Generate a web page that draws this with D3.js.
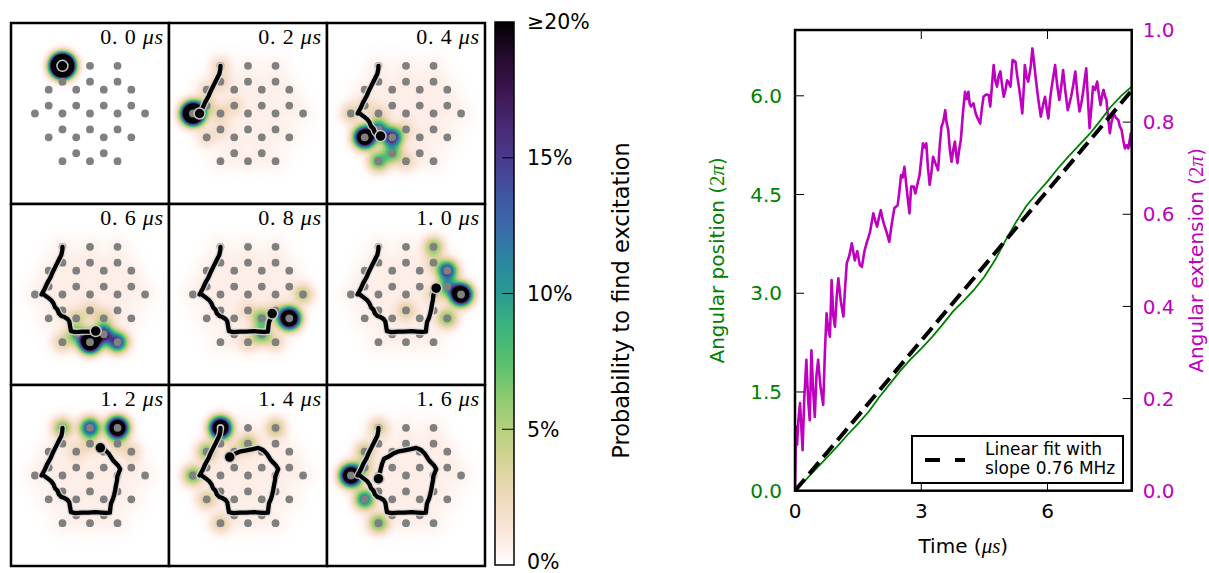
<!DOCTYPE html>
<html><head><meta charset="utf-8">
<script src="https://cdn.jsdelivr.net/npm/d3@7"></script>
<style>body{margin:0;background:#fff;}svg{display:block;}</style>
</head><body>
<svg id="chart" width="1209" height="573"></svg>
<script>
// ================= DATA =================
// honeycomb lattice geometry (lattice units)
const colX = [-3.464,-2.598,-1.732,-0.866,0,0.866,1.732,2.598,3.464];
const rowY = [-3,-2,-1.5,-0.5,0,1,1.5,2.5,3];
const siteIdx = [[2,0],[4,0],[6,0],[2,1],[4,1],[6,1],[1,2],[3,2],[5,2],[7,2],[1,3],[3,3],[5,3],[7,3],
  [0,4],[2,4],[4,4],[6,4],[8,4],[2,5],[4,5],[6,5],[1,6],[3,6],[5,6],[7,6],[3,7],[5,7],[2,8],[4,8],[6,8]];

const panelTimes = ["0. 0","0. 2","0. 4","0. 6","0. 8","1. 0","1. 2","1. 4","1. 6"];
const panelEndT = [0,0.2,0.4,0.6,0.8,1.0,1.2,1.4,1.6];
// excitation probability per site [col,row,p]
const panelProbs = [
  [[2,0,1.0]],
  [[0,4,0.62],[1,3,0.03],[2,4,0.02],[1,2,0.015],[2,0,0.02],[2,1,0.02],[3,3,0.015],[1,6,0.015],[2,5,0.012]],
  [[1,6,0.36],[3,6,0.17],[2,5,0.12],[2,8,0.085],[3,7,0.07],[0,4,0.03],[2,4,0.02],[1,3,0.015],[4,5,0.015],[4,8,0.02]],
  [[4,8,0.4],[5,7,0.16],[6,8,0.16],[3,7,0.07],[3,6,0.03],[5,6,0.03],[2,8,0.03],[4,5,0.02]],
  [[7,6,0.4],[5,7,0.075],[5,6,0.07],[8,4,0.045],[6,5,0.02],[4,8,0.02],[6,8,0.02],[4,5,0.015]],
  [[8,4,0.4],[7,2,0.16],[7,3,0.08],[6,0,0.065],[7,6,0.065],[4,5,0.03],[6,4,0.02],[6,1,0.02]],
  [[6,0,0.38],[4,0,0.16],[2,0,0.07],[4,1,0.02],[6,1,0.02],[7,2,0.02],[3,2,0.015]],
  [[2,0,0.38],[0,4,0.075],[1,2,0.065],[4,1,0.05],[6,0,0.045],[1,6,0.035],[2,8,0.03],[3,2,0.02]],
  [[0,4,0.38],[1,6,0.12],[2,8,0.075],[1,2,0.045],[2,0,0.035],[1,3,0.03]]
];
const panelHaze = [0,0.004,0.0045,0.0045,0.0045,0.0045,0.0045,0.0045,0.0045];

// centre-of-mass trajectory [x, y, t]
const trajectory = [
  [-1.732,-3.0,0.00],[-1.74,-2.8,0.02],[-1.8,-2.5,0.04],[-1.95,-2.2,0.06],[-2.15,-1.8,0.08],
  [-2.35,-1.4,0.10],[-2.5,-1.05,0.12],[-2.7,-0.7,0.14],[-2.85,-0.35,0.17],[-3.05,0.0,0.2],
  [-2.95,-0.03,0.21],[-2.7,0.15,0.24],[-2.45,0.35,0.27],[-2.3,0.55,0.30],[-2.2,0.8,0.33],
  [-2.05,0.95,0.35],[-1.95,1.2,0.37],[-1.8,1.35,0.39],[-1.6,1.42,0.40],[-1.4,1.55,0.43],
  [-1.3,1.7,0.46],[-1.25,2.0,0.49],[-1.2,2.3,0.51],[-0.9,2.36,0.53],[-0.5,2.34,0.55],
  [-0.1,2.33,0.57],[0.36,2.30,0.60],[0.7,2.33,0.65],[1.0,2.35,0.69],[1.25,2.34,0.72],
  [1.28,2.05,0.74],[1.32,1.75,0.76],[1.45,1.45,0.78],[1.52,1.2,0.80],[1.58,0.95,0.84],
  [1.62,0.7,0.88],[1.7,0.3,0.92],[1.72,0.05,0.95],[1.9,-0.4,1.0],[1.75,-0.65,1.05],
  [1.45,-0.95,1.1],[1.2,-1.35,1.15],[0.95,-1.6,1.18],[0.65,-1.74,1.2],[0.3,-1.66,1.25],
  [-0.1,-1.58,1.29],[-0.45,-1.52,1.32],[-0.8,-1.38,1.36],[-1.15,-1.16,1.4],[-1.38,-1.05,1.45],
  [-1.5,-0.75,1.5],[-1.58,-0.45,1.54],[-1.65,-0.15,1.57],[-1.73,0.2,1.6]
];

// colour map (fraction of 20 %)
const cmapStops  = [0,0.05,0.125,0.19,0.25,0.31,0.375,0.44,0.5,0.56,0.625,0.69,0.75,0.81,0.875,0.94,1];
const cmapColors = ["#ffffff","#fce9e0","#efd9bc","#d6d398","#b5d07e","#8ccb72","#58c06e","#3cb37e",
  "#2a9a92","#2b85a0","#3a6aa8","#4152a0","#4a3a8a","#472a72","#3b1550","#230a2a","#000000"];
const cbarTicks = [0,5,10,15,20];
const cbarTickLabels = ["0%","5%","10%","15%","\u226520%"];

// right plot
const posT = [0,0.25,0.5,0.75,1.0,1.25,1.5,1.75,2.0,2.25,2.5,2.75,3.0,3.25,3.5,3.75,4.0,4.25,4.5,4.75,5.0,5.25,5.5,5.75,6.0,6.25,6.5,6.75,7.0,7.25,7.5,7.75,8.0];
const posV = [0,0.16,0.33,0.5,0.67,0.85,1.02,1.2,1.42,1.62,1.82,2.0,2.16,2.33,2.52,2.72,2.88,3.05,3.25,3.5,3.8,4.08,4.33,4.52,4.7,4.9,5.08,5.25,5.42,5.62,5.83,6.0,6.14];
const extT = [0,0.024,0.05,0.08,0.12,0.18,0.22,0.27,0.31,0.35,0.39,0.43,0.47,0.51,0.55,0.6,0.67,0.71,0.75,0.79,0.83,0.87,0.91,0.95,0.99,1.03,1.09,1.15,1.19,1.23,1.29,1.35,1.42,1.48,1.54,1.59,1.65,1.71,1.78,1.86,1.91,1.95,2.0,2.04,2.08,2.12,2.18,2.24,2.3,2.36,2.44,2.48,2.52,2.56,2.6,2.66,2.72,2.76,2.82,2.86,2.92,2.96,3.0,3.04,3.08,3.12,3.16,3.2,3.24,3.28,3.34,3.4,3.44,3.48,3.52,3.57,3.6,3.64,3.68,3.72,3.76,3.8,3.83,3.86,3.9,3.94,3.99,4.04,4.08,4.12,4.15,4.18,4.24,4.29,4.34,4.4,4.44,4.48,4.54,4.6,4.64,4.68,4.72,4.76,4.8,4.84,4.88,4.92,4.96,5.0,5.04,5.08,5.12,5.17,5.24,5.28,5.32,5.36,5.4,5.44,5.46,5.5,5.54,5.6,5.64,5.68,5.72,5.78,5.84,5.9,5.94,5.98,6.02,6.06,6.1,6.14,6.18,6.23,6.28,6.33,6.37,6.42,6.48,6.52,6.56,6.61,6.66,6.71,6.76,6.8,6.83,6.88,6.92,6.96,7.0,7.04,7.08,7.13,7.18,7.22,7.26,7.3,7.33,7.37,7.4,7.44,7.48,7.52,7.57,7.62,7.68,7.72,7.76,7.8,7.84,7.88,7.92,7.96,7.98,8.0];
const extV = [0,0.139,0.10,0.153,0.19,0.088,0.2,0.284,0.2,0.153,0.305,0.22,0.16,0.25,0.284,0.23,0.186,0.3,0.385,0.35,0.334,0.457,0.38,0.356,0.42,0.461,0.41,0.378,0.44,0.494,0.51,0.537,0.5,0.52,0.49,0.486,0.52,0.54,0.56,0.602,0.585,0.573,0.595,0.609,0.59,0.577,0.56,0.54,0.58,0.613,0.62,0.65,0.685,0.68,0.703,0.65,0.602,0.66,0.66,0.645,0.67,0.685,0.72,0.754,0.745,0.754,0.7,0.664,0.69,0.725,0.71,0.696,0.75,0.79,0.8,0.826,0.8,0.783,0.74,0.714,0.74,0.758,0.73,0.711,0.74,0.761,0.82,0.866,0.85,0.866,0.84,0.834,0.841,0.82,0.808,0.797,0.83,0.855,0.86,0.859,0.834,0.88,0.924,0.89,0.877,0.9,0.91,0.88,0.855,0.87,0.891,0.885,0.877,0.935,0.931,0.9,0.877,0.85,0.819,0.88,0.924,0.9,0.888,0.92,0.96,0.93,0.895,0.85,0.812,0.84,0.855,0.83,0.808,0.85,0.877,0.9,0.924,0.88,0.848,0.88,0.913,0.87,0.826,0.84,0.855,0.88,0.91,0.86,0.823,0.84,0.855,0.89,0.917,0.85,0.787,0.83,0.877,0.87,0.888,0.86,0.837,0.86,0.87,0.855,0.848,0.81,0.776,0.8,0.819,0.81,0.805,0.79,0.783,0.76,0.743,0.75,0.743,0.765,0.776,0.746];
const fitT = [0,8];
const fitV = [0,6.08];
const xTicks = [0,3,6];
const yLeftTicks = [0,1.5,3.0,4.5,6.0];
const yRightTicks = [0,0.2,0.4,0.6,0.8,1.0];

// ================= DRAW =================
const svg = d3.select("#chart");
const SANS = "DejaVu Sans, sans-serif";
const SERIF = "Liberation Serif, DejaVu Serif, serif";

const cmap = d3.scaleLinear().domain(cmapStops).range(cmapColors).interpolate(d3.interpolateRgb).clamp(true);

// ---- small multiples ----
const gx0 = 11, gy0 = 23, pw = 158, ph = 181;
const unit = 15.9;
const xs = d3.scaleLinear().domain([-pw/2/unit, pw/2/unit]).range([0, pw]);
const ys = d3.scaleLinear().domain([-ph/2/unit, ph/2/unit]).range([0, ph]);
const sites = siteIdx.map(([k,r]) => ({x: colX[k], y: rowY[r]}));
const sigma = 0.4, hazeSigma = 0.6;

panelTimes.forEach((lab, i) => {
  const col = i % 3, row = Math.floor(i / 3);
  const g = svg.append("g").attr("transform", `translate(${gx0 + col*pw},${gy0 + row*ph})`);
  // heat map
  const cv = document.createElement("canvas");
  cv.width = pw; cv.height = ph;
  const ctx = cv.getContext("2d");
  const img = ctx.createImageData(pw, ph);
  const peaks = panelProbs[i].map(([k,r,p]) => ({x: colX[k], y: rowY[r], p}));
  const hz = panelHaze[i];
  for (let py = 0; py < ph; py++) {
    const ly = ys.invert(py + 0.5);
    for (let px = 0; px < pw; px++) {
      const lx = xs.invert(px + 0.5);
      let v = 0;
      for (const s of peaks) {
        const d2 = (lx - s.x)**2 + (ly - s.y)**2;
        v += s.p * Math.exp(-d2 / (2*sigma*sigma));
      }
      if (hz > 0) for (const s of sites) {
        const d2 = (lx - s.x)**2 + (ly - s.y)**2;
        v += hz * Math.exp(-d2 / (2*hazeSigma*hazeSigma));
      }
      const c = d3.rgb(cmap(Math.min(v, 0.2) / 0.2));
      const o = (py*pw + px) * 4;
      img.data[o] = c.r; img.data[o+1] = c.g; img.data[o+2] = c.b; img.data[o+3] = 255;
    }
  }
  ctx.putImageData(img, 0, 0);
  g.append("image").attr("x", 0).attr("y", 0).attr("width", pw).attr("height", ph)
    .attr("href", cv.toDataURL());
  // lattice sites
  g.selectAll("circle.site").data(sites).join("circle").attr("class","site")
    .attr("cx", d => xs(d.x)).attr("cy", d => ys(d.y)).attr("r", 3.9).attr("fill", "#808080");
  // trajectory
  const pts = trajectory.filter(p => p[2] <= panelEndT[i] + 1e-9);
  const line = d3.line().x(d => xs(d[0])).y(d => ys(d[1])).curve(d3.curveLinear);
  if (pts.length > 1) {
    g.append("path").attr("d", line(pts)).attr("fill","none").attr("stroke","#d8d8d8")
      .attr("stroke-width", 7).attr("stroke-linejoin","round").attr("stroke-linecap","round").attr("opacity",0.85);
    g.append("path").attr("d", line(pts)).attr("fill","none").attr("stroke","#000")
      .attr("stroke-width", 4.3).attr("stroke-linejoin","round").attr("stroke-linecap","round");
  }
  const last = pts[pts.length-1];
  g.append("circle").attr("cx", xs(last[0])).attr("cy", ys(last[1])).attr("r", 5.5)
    .attr("fill","#000").attr("stroke","#c8c8c8").attr("stroke-width",1.5);
  // time label
  const t = g.append("text").attr("x", pw - 5).attr("y", 21).attr("text-anchor","end")
    .attr("font-family", SERIF).attr("font-size", 22).attr("letter-spacing", 0.8).attr("fill","#000");
  t.append("tspan").text(lab + " ");
  t.append("tspan").attr("font-style","italic").text("\u03bcs");
  // frame
  g.append("rect").attr("x",0).attr("y",0).attr("width",pw).attr("height",ph)
    .attr("fill","none").attr("stroke","#000").attr("stroke-width",2.5);
});

// ---- colour bar ----
const cbX = 495, cbW = 19, cbY0 = 22, cbY1 = 565;
const defs = svg.append("defs");
const grad = defs.append("linearGradient").attr("id","cbgrad").attr("x1",0).attr("y1",1).attr("x2",0).attr("y2",0);
cmapStops.forEach((s, j) => grad.append("stop").attr("offset", s).attr("stop-color", cmapColors[j]));
svg.append("rect").attr("x",cbX).attr("y",cbY0).attr("width",cbW).attr("height",cbY1-cbY0)
  .attr("fill","url(#cbgrad)").attr("stroke","#000").attr("stroke-width",1.5);
const cbScale = d3.scaleLinear().domain([0,20]).range([cbY1, cbY0]);
cbarTicks.forEach((v, j) => {
  if (v > 0 && v < 20) svg.append("line").attr("x1", cbX+cbW).attr("x2", cbX+cbW-12)
    .attr("y1", cbScale(v)).attr("y2", cbScale(v)).attr("stroke","#000").attr("stroke-width",1);
  svg.append("text").attr("x", cbX+cbW+13).attr("y", v === 0 ? cbScale(v) - 3 : cbScale(v)).attr("dy","0.36em")
    .attr("font-family",SANS).attr("font-size",20.5).attr("fill","#000").text(cbarTickLabels[j]);
});
svg.append("text").attr("transform",`translate(629,${(cbY0+cbY1)/2 + 7}) rotate(-90)`)
  .attr("text-anchor","middle").attr("font-family",SANS).attr("font-size",22.5).attr("fill","#000")
  .text("Probability to find excitation");

// ---- right plot ----
const L = 795, R = 1131.7, T = 30, B = 490.7;
const xR = d3.scaleLinear().domain([0,8]).range([L,R]);
const yL = d3.scaleLinear().domain([0,7]).range([B,T]);
const yR = d3.scaleLinear().domain([0,1]).range([B,T]);
const GREEN = "#008000", MAG = "#bf00bf";
defs.append("clipPath").attr("id","plotclip").append("rect").attr("x",L).attr("y",T).attr("width",R-L).attr("height",B-T);
const pg = svg.append("g").attr("clip-path","url(#plotclip)");
pg.append("path").datum(extT.map((t,j)=>[t,extV[j]]))
  .attr("d", d3.line().x(d=>xR(d[0])).y(d=>yR(d[1])))
  .attr("fill","none").attr("stroke",MAG).attr("stroke-width",2.6).attr("stroke-linejoin","round");
pg.append("path").datum(posT.map((t,j)=>[t,posV[j]]))
  .attr("d", d3.line().x(d=>xR(d[0])).y(d=>yL(d[1])))
  .attr("fill","none").attr("stroke",GREEN).attr("stroke-width",1.8);
pg.append("path").datum(fitT.map((t,j)=>[t,fitV[j]]))
  .attr("d", d3.line().x(d=>xR(d[0])).y(d=>yL(d[1])))
  .attr("fill","none").attr("stroke","#000").attr("stroke-width",4).attr("stroke-dasharray","15,7");

// ticks
const tickLen = 9;
xTicks.forEach(v => {
  svg.append("line").attr("x1",xR(v)).attr("x2",xR(v)).attr("y1",B).attr("y2",B-tickLen).attr("stroke","#000").attr("stroke-width",1);
  svg.append("line").attr("x1",xR(v)).attr("x2",xR(v)).attr("y1",T).attr("y2",T+tickLen).attr("stroke","#000").attr("stroke-width",1);
  svg.append("text").attr("x",xR(v)).attr("y",B+27).attr("text-anchor","middle")
    .attr("font-family",SANS).attr("font-size",20).attr("fill","#000").text(d3.format("d")(v));
});
yLeftTicks.forEach(v => {
  svg.append("line").attr("x1",L).attr("x2",L+tickLen).attr("y1",yL(v)).attr("y2",yL(v)).attr("stroke","#000").attr("stroke-width",1);
  svg.append("text").attr("x",L-13).attr("y",yL(v)).attr("dy","0.36em").attr("text-anchor","end")
    .attr("font-family",SANS).attr("font-size",20).attr("fill",GREEN).text(d3.format(".1f")(v));
});
yRightTicks.forEach(v => {
  svg.append("line").attr("x1",R).attr("x2",R-tickLen).attr("y1",yR(v)).attr("y2",yR(v)).attr("stroke","#000").attr("stroke-width",1);
  svg.append("text").attr("x",R+11).attr("y",yR(v)).attr("dy","0.36em").attr("text-anchor","start")
    .attr("font-family",SANS).attr("font-size",20).attr("fill",MAG).text(d3.format(".1f")(v));
});
svg.append("rect").attr("x",L).attr("y",T).attr("width",R-L).attr("height",B-T)
  .attr("fill","none").attr("stroke","#000").attr("stroke-width",2.5);

// axis labels
const xl = svg.append("text").attr("x",(L+R)/2).attr("y",553).attr("text-anchor","middle")
  .attr("font-family",SANS).attr("font-size",20).attr("fill","#000");
xl.append("tspan").text("Time (");
xl.append("tspan").attr("font-family",SERIF).attr("font-style","italic").attr("font-size",21).text("\u03bcs");
xl.append("tspan").text(")");
const yl = svg.append("text").attr("transform",`translate(724,${(T+B)/2}) rotate(-90)`).attr("text-anchor","middle")
  .attr("font-family",SANS).attr("font-size",20).attr("fill",GREEN);
yl.append("tspan").text("Angular position (");
yl.append("tspan").attr("font-family",SERIF).attr("font-size",21).text("2");
yl.append("tspan").attr("font-family",SERIF).attr("font-style","italic").attr("font-size",21).text("\u03c0");
yl.append("tspan").text(")");
const yr = svg.append("text").attr("transform",`translate(1203,${(T+B)/2}) rotate(-90)`).attr("text-anchor","middle")
  .attr("font-family",SANS).attr("font-size",20).attr("fill",MAG);
yr.append("tspan").text("Angular extension (");
yr.append("tspan").attr("font-family",SERIF).attr("font-size",21).text("2");
yr.append("tspan").attr("font-family",SERIF).attr("font-style","italic").attr("font-size",21).text("\u03c0");
yr.append("tspan").text(")");

// legend
const lg = svg.append("g");
lg.append("rect").attr("x",912).attr("y",436).attr("width",211).attr("height",47)
  .attr("fill","#fff").attr("stroke","#000").attr("stroke-width",2);
lg.append("line").attr("x1",925).attr("x2",965).attr("y1",460).attr("y2",460)
  .attr("stroke","#000").attr("stroke-width",4).attr("stroke-dasharray","15,15");
lg.append("text").attr("x",985).attr("y",455).attr("font-family",SANS).attr("font-size",17).text("Linear fit with");
lg.append("text").attr("x",985).attr("y",473.5).attr("font-family",SANS).attr("font-size",17).text("slope 0.76 MHz");
</script>
</body></html>
